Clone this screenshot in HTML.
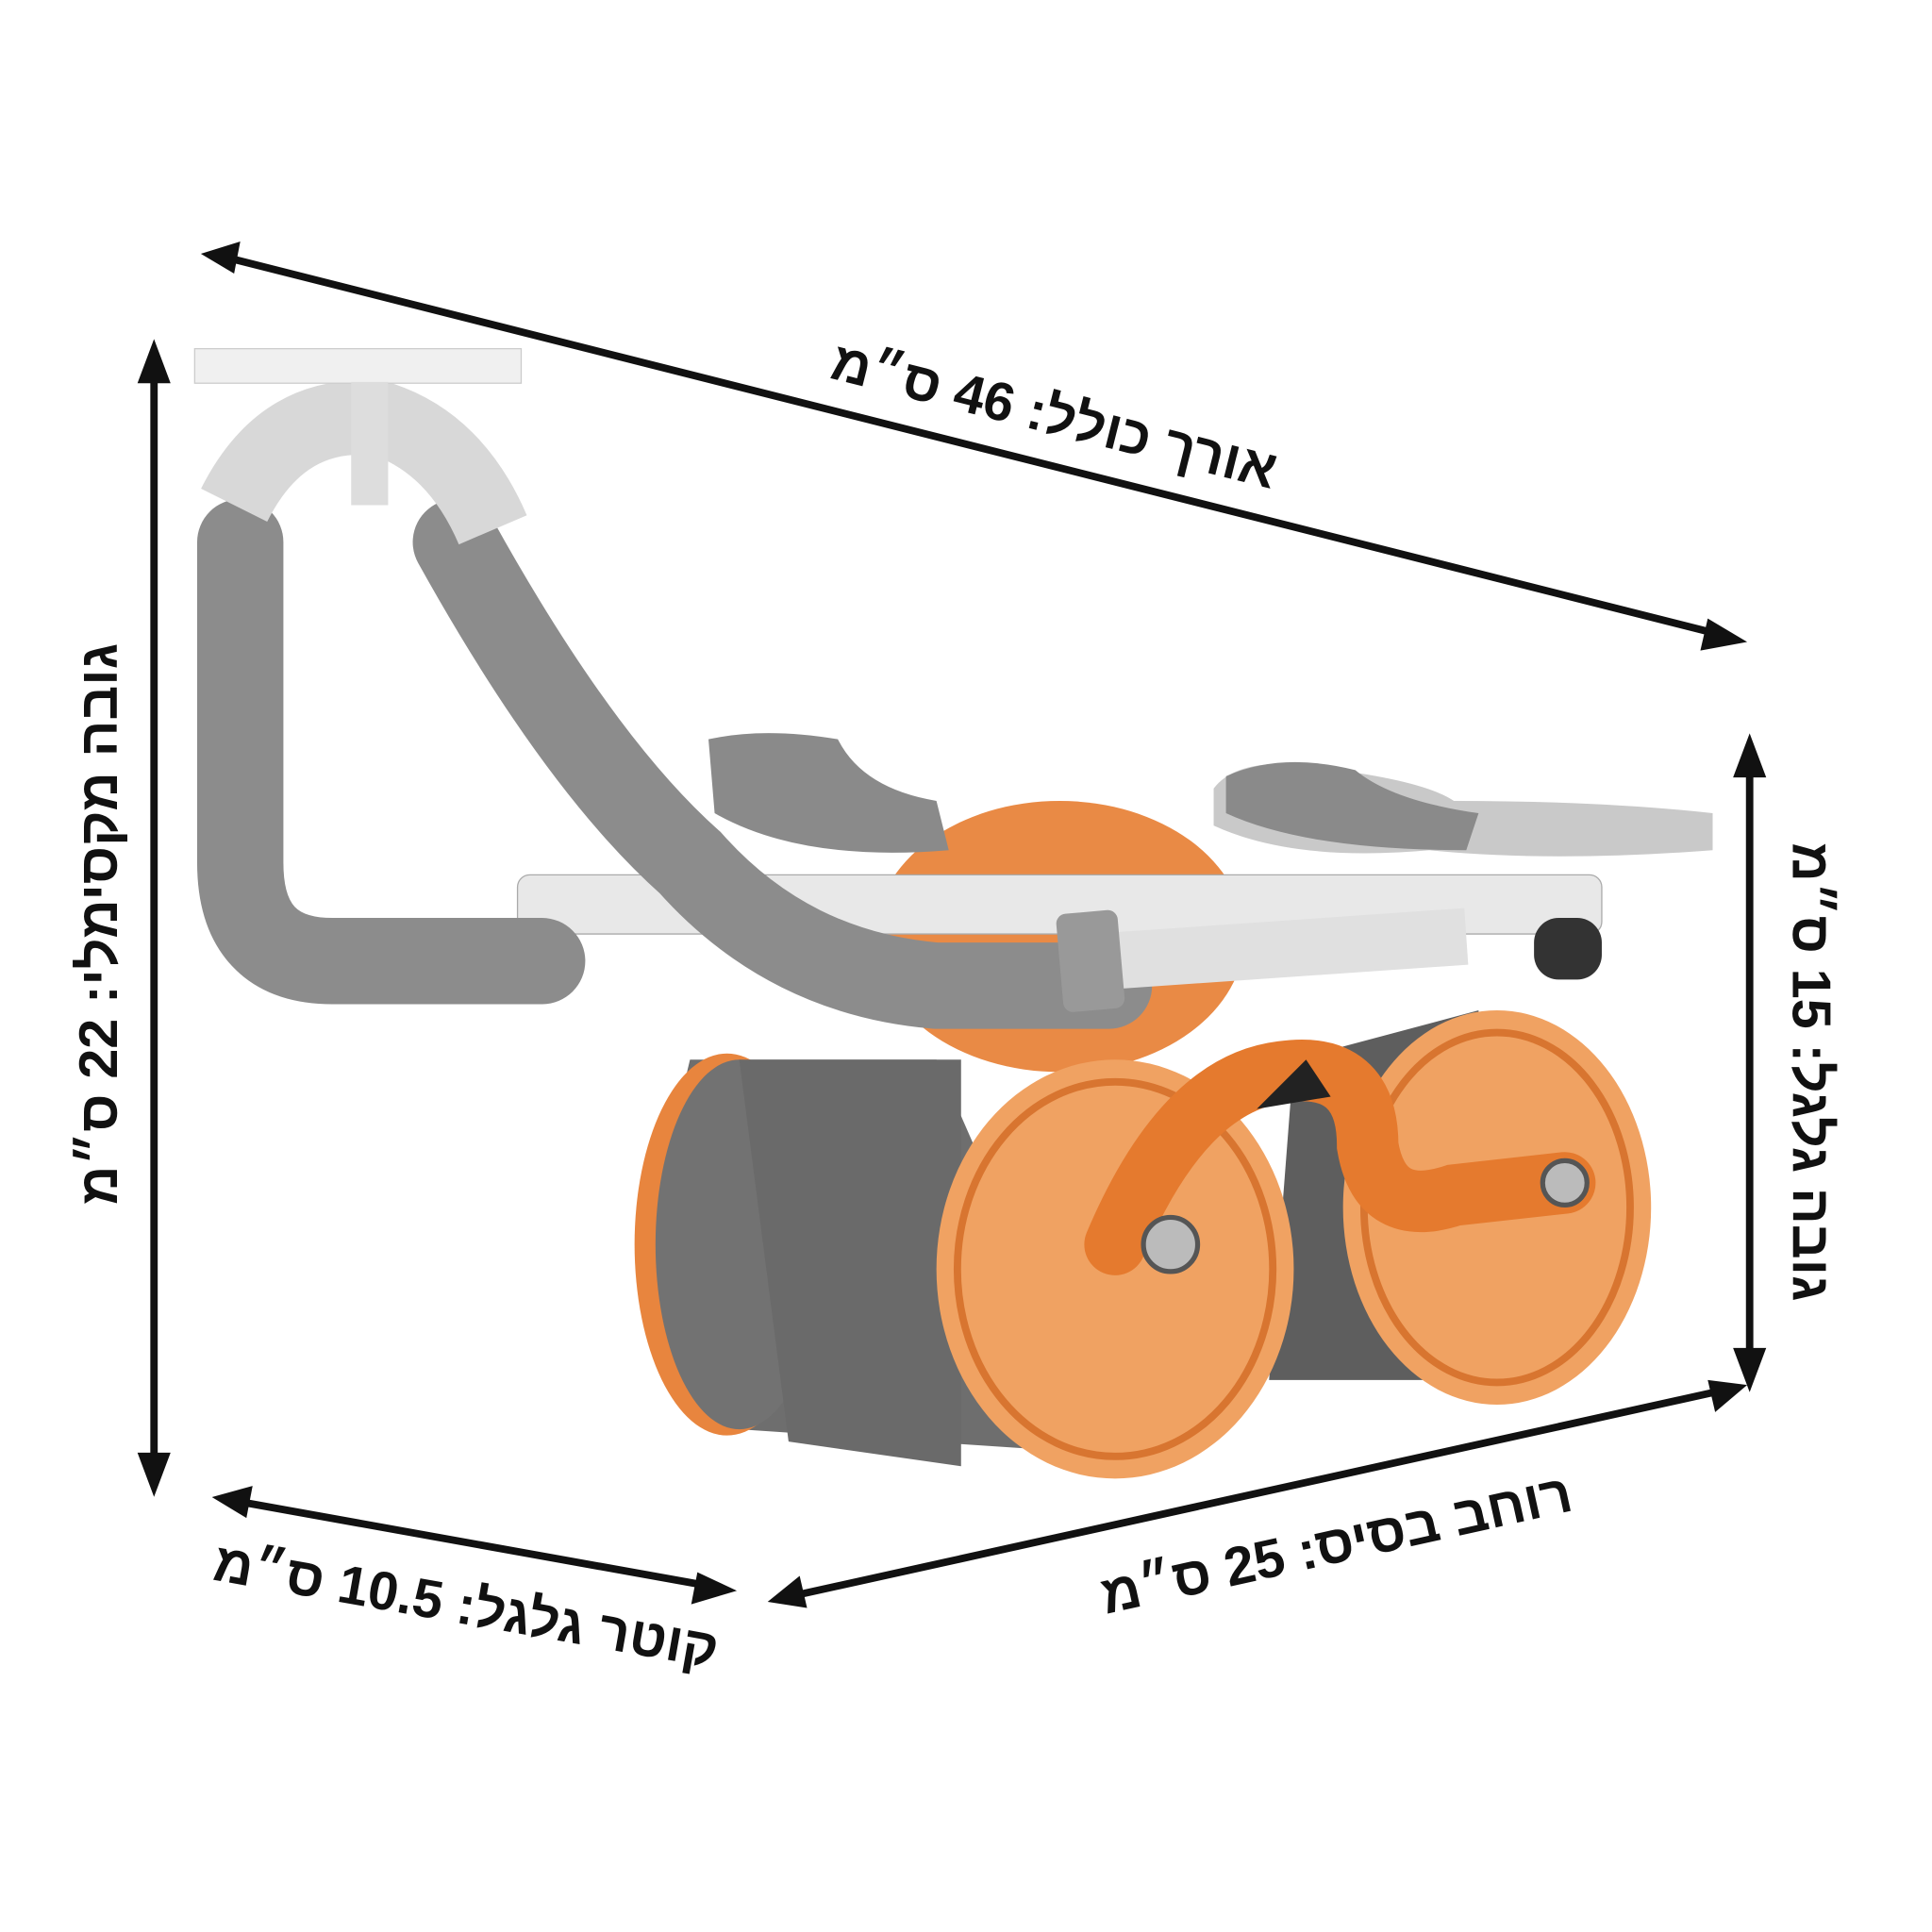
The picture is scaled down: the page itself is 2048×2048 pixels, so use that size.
<!DOCTYPE html>
<html><head><meta charset="utf-8"><style>
html,body{margin:0;padding:0;background:#fff;}
svg{display:block;}
text{font-family:"Liberation Sans","Noto Sans CJK SC",sans-serif;font-weight:bold;fill:#111;}
</style></head><body>
<svg width="2048" height="2048" viewBox="0 0 1568 1568" xmlns="http://www.w3.org/2000/svg">
<rect width="1568" height="1568" fill="#fff"/>

<!-- product -->
<path d="M560 860 L760 860 L900 1180 L600 1160 Q520 1020 560 860 Z" fill="#6e6e6e"/>
<ellipse cx="590" cy="1010" rx="75" ry="155" fill="#e8853e"/>
<ellipse cx="600" cy="1010" rx="68" ry="150" fill="#727272"/>
<path d="M600 860 L780 860 L780 1190 L640 1170 Z" fill="#6a6a6a"/>
<ellipse cx="860" cy="760" rx="150" ry="110" fill="#e98a45"/>
<path d="M1050 860 L1200 820 L1200 1120 L1030 1120 Z" fill="#5e5e5e"/>
<ellipse cx="905" cy="1030" rx="145" ry="170" fill="#f0a262"/>
<ellipse cx="905" cy="1030" rx="128" ry="152" fill="none" stroke="#d87530" stroke-width="6"/>
<ellipse cx="1215" cy="980" rx="125" ry="160" fill="#f0a262"/>
<ellipse cx="1215" cy="980" rx="108" ry="142" fill="none" stroke="#d87530" stroke-width="6"/>
<path d="M905 1010 Q960 880 1040 870 Q1110 860 1110 930 Q1120 990 1180 970 L1270 960" fill="none" stroke="#e57a2e" stroke-width="50" stroke-linecap="round"/>
<path d="M1020 900 L1060 860 L1080 890 Z" fill="#222"/>
<circle cx="950" cy="1010" r="22" fill="#bbb" stroke="#555" stroke-width="4"/>
<circle cx="1270" cy="960" r="18" fill="#bbb" stroke="#555" stroke-width="4"/>
<rect x="420" y="710" width="880" height="48" rx="10" fill="#e8e8e8" stroke="#aaa"/>
<rect x="1245" y="745" width="55" height="50" rx="20" fill="#333"/>
<path d="M575 600 Q620 590 680 600 Q700 640 760 650 L770 690 Q650 700 580 660 Z" fill="#8a8a8a"/>
<path d="M985 640 Q1000 620 1040 620 Q1150 630 1180 650 Q1300 650 1390 660 L1390 690 Q1260 700 1160 690 Q1050 700 985 670 Z" fill="#c9c9c9"/>
<path d="M995 630 Q1040 610 1100 625 Q1130 650 1200 660 L1190 690 Q1060 690 995 660 Z" fill="#8a8a8a"/>
<path d="M195 440 L195 700 Q195 780 270 780 L440 780" fill="none" stroke="#8c8c8c" stroke-width="70" stroke-linecap="round"/>
<path d="M370 440 Q470 620 560 700 Q640 790 760 800 L900 800" fill="none" stroke="#8c8c8c" stroke-width="70" stroke-linecap="round"/>
<path d="M900 780 L1190 760" stroke="#e0e0e0" stroke-width="46"/>
<rect x="860" y="740" width="50" height="80" rx="8" fill="#999" transform="rotate(-5 885 780)"/>
<path d="M190 410 Q230 330 310 340 Q370 360 400 430" fill="none" stroke="#d8d8d8" stroke-width="60"/>
<rect x="158" y="283" width="265" height="28" fill="#f0f0f0" stroke="#ccc"/>
<rect x="285" y="310" width="30" height="100" fill="#ddd"/>

<!-- arrows -->
<g stroke="#111" stroke-width="6" fill="#111">
<line x1="180" y1="208" x2="1400" y2="516"/>
<line x1="125" y1="295" x2="125" y2="1195"/>
<path d="M125 278 L113 310 L137 310 Z" stroke-width="2"/>
<path d="M125 1212 L113 1180 L137 1180 Z" stroke-width="2"/>
<line x1="1420" y1="615" x2="1420" y2="1110"/>
<path d="M1420 598 L1408 630 L1432 630 Z" stroke-width="2"/>
<path d="M1420 1127 L1408 1095 L1432 1095 Z" stroke-width="2"/>
<line x1="640" y1="1296" x2="1400" y2="1128"/>
<line x1="190" y1="1218" x2="580" y2="1288"/>
</g>
<g fill="#111">
<path d="M1418 521 L1386 502 L1380 528 Z"/>
<path d="M163 206 L195 196 L190 222 Z"/>
<path d="M1418 1124 L1386 1120 L1392 1146 Z"/>
<path d="M623 1300 L655 1305 L649 1279 Z"/>
<path d="M172 1215 L205 1206 L200 1232 Z"/>
<path d="M598 1291 L566 1276 L561 1302 Z"/>
</g>

<!-- labels -->
<text x="855" y="352" font-size="44" text-anchor="middle" direction="rtl" transform="rotate(14.1 855 340)">אורך כולל: 46 ס״מ</text>
<text x="80" y="765" font-size="44" text-anchor="middle" direction="rtl" transform="rotate(-90 80 750)">גובה מקסימלי: 22 ס״מ</text>
<text x="1470" y="885" font-size="44" text-anchor="middle" direction="rtl" transform="rotate(90 1470 870)">גובה גלגל: 15 ס״מ</text>
<text x="1085" y="1268" font-size="44" text-anchor="middle" direction="rtl" transform="rotate(-12.5 1085 1255)">רוחב בסיס: 25 ס״מ</text>
<text x="378" y="1318" font-size="44" text-anchor="middle" direction="rtl" transform="rotate(10 378 1305)">קוטר גלגל: 10.5 ס״מ</text>
</svg>
</body></html>
